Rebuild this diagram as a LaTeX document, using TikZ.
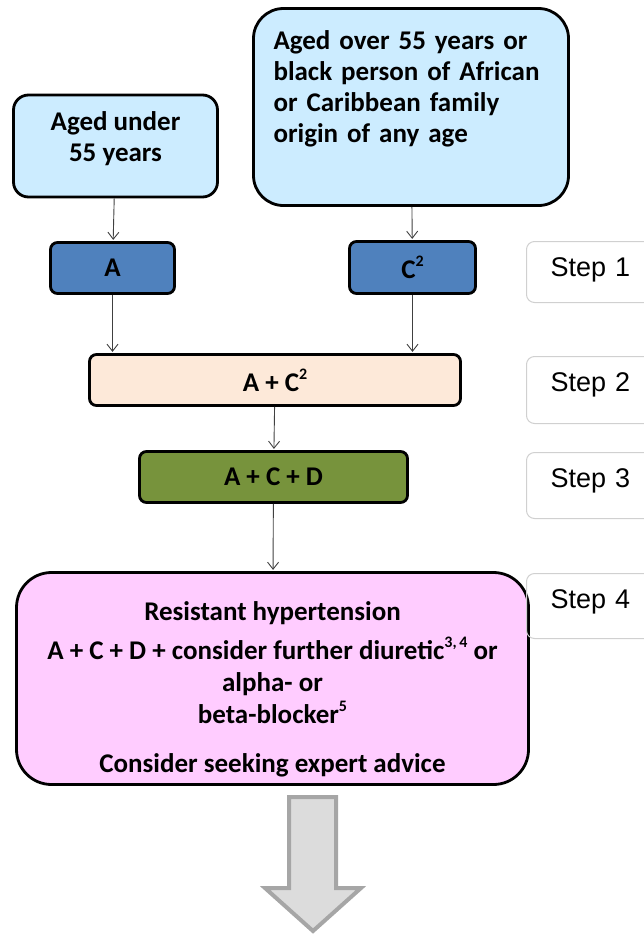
\documentclass[tikz,border=0pt]{standalone}
\usepackage{fontspec}
\setmainfont{Carlito}
\newfontfamily\stepfont{Liberation Sans}
\usetikzlibrary{arrows.meta}
\definecolor{lblue}{HTML}{CCECFF}
\definecolor{dblue}{HTML}{4F81BD}
\definecolor{peach}{HTML}{FDE9D9}
\definecolor{olivegreen}{HTML}{77933C}
\definecolor{pinkf}{HTML}{FFCCFF}
\definecolor{arrfill}{HTML}{DCDCDC}
\definecolor{arrline}{HTML}{A6A6A6}
\definecolor{connc}{HTML}{404040}
\definecolor{stepline}{HTML}{D0D0D0}
\newcommand{\supsm}[1]{\raisebox{0.45em}{\fontsize{16}{16}\selectfont #1}}
\begin{document}
\begin{tikzpicture}[x=1pt,y=-1pt,
  box/.style={draw=black, line width=2.8pt, rectangle, inner sep=0pt,
    font=\fontsize{27}{31}\selectfont\bfseries},
  link/.style={draw=connc, line width=0.9pt, shorten >=1.2pt,
    -{Straight Barb[length=7pt,width=11pt]}},
  stepbox/.style={draw=stepline, line width=1pt, rounded corners=8pt,
    anchor=north west, inner ysep=0pt, inner xsep=24pt, text width=120pt,
    align=left, text height=35pt, font=\stepfont\fontsize{27}{31}\selectfont}
]
\useasboundingbox (0,0) rectangle (644,935);
\clip (0,0) rectangle (644,935);

% source boxes
\node[box, fill=lblue, rounded corners=15pt, minimum width=204pt,
  minimum height=102pt, align=center] (u55) at (115.5,146)
  {Aged under\\55 years\rule[-18pt]{0pt}{18pt}};
\node[box, fill=lblue, rounded corners=30pt, minimum width=315pt,
  minimum height=197pt, text width=275pt, align=left] (o55) at (411,107)
  {Aged over 55 years or\\ black person of African\\ or Caribbean family\\
   origin of any age\\ \rule[-9pt]{0pt}{9pt}};

% step 1
\node[box, fill=dblue, rounded corners=7pt, minimum width=124pt,
  minimum height=51pt] (A) at (112.5,268) {A};
\node[box, fill=dblue, rounded corners=7pt, minimum width=126pt,
  minimum height=52pt] (C) at (412.5,267.5) {C\supsm{2}};

% step 2
\node[box, fill=peach, rounded corners=7pt, minimum width=371pt,
  minimum height=51pt] (AC) at (275,380) {A + C\supsm{2}};

% step 3
\node[box, fill=olivegreen, rounded corners=7pt, minimum width=268pt,
  minimum height=51pt] (ACD) at (273.5,477) {A + C + D};

% step 4
\node[box, fill=pinkf, rounded corners=35pt, minimum width=512pt,
  minimum height=212pt, align=center,
  font=\fontsize{27}{32}\selectfont\bfseries] (pink) at (272.5,678.5)
  {\rule{0pt}{40pt}Resistant hypertension\\[7pt]
   A + C + D + consider further diuretic\supsm{3,\,4} or\\
   alpha- or\\
   beta-blocker\supsm{5}\\[17pt]
   Consider seeking expert advice};

% step labels
\node[stepbox, text depth=26pt] (s1) at (526,241) {Step 1};
\node[stepbox, text depth=32pt] (s2) at (526,356) {Step 2};
\node[stepbox, text depth=31pt] (s3) at (526,452) {Step 3};
\node[stepbox, text depth=30pt] (s4) at (526,573) {Step 4};

% connectors
\draw[link] (u55) -- (A);
\draw[link] (o55) -- (C);
\draw[link] (A.south) -- (A.south |- AC.north);
\draw[link] (C.south) -- (C.south |- AC.north);
\draw[link] (AC) -- (ACD);
\draw[link] (ACD) -- (pink);

% big grey arrow
\draw[fill=arrfill, draw=arrline, line width=4pt, miter limit=10]
  (289,797) -- (336,797) -- (336,888) -- (361,888) -- (313,931)
  -- (265,888) -- (289,888) -- cycle;
\end{tikzpicture}
\end{document}
